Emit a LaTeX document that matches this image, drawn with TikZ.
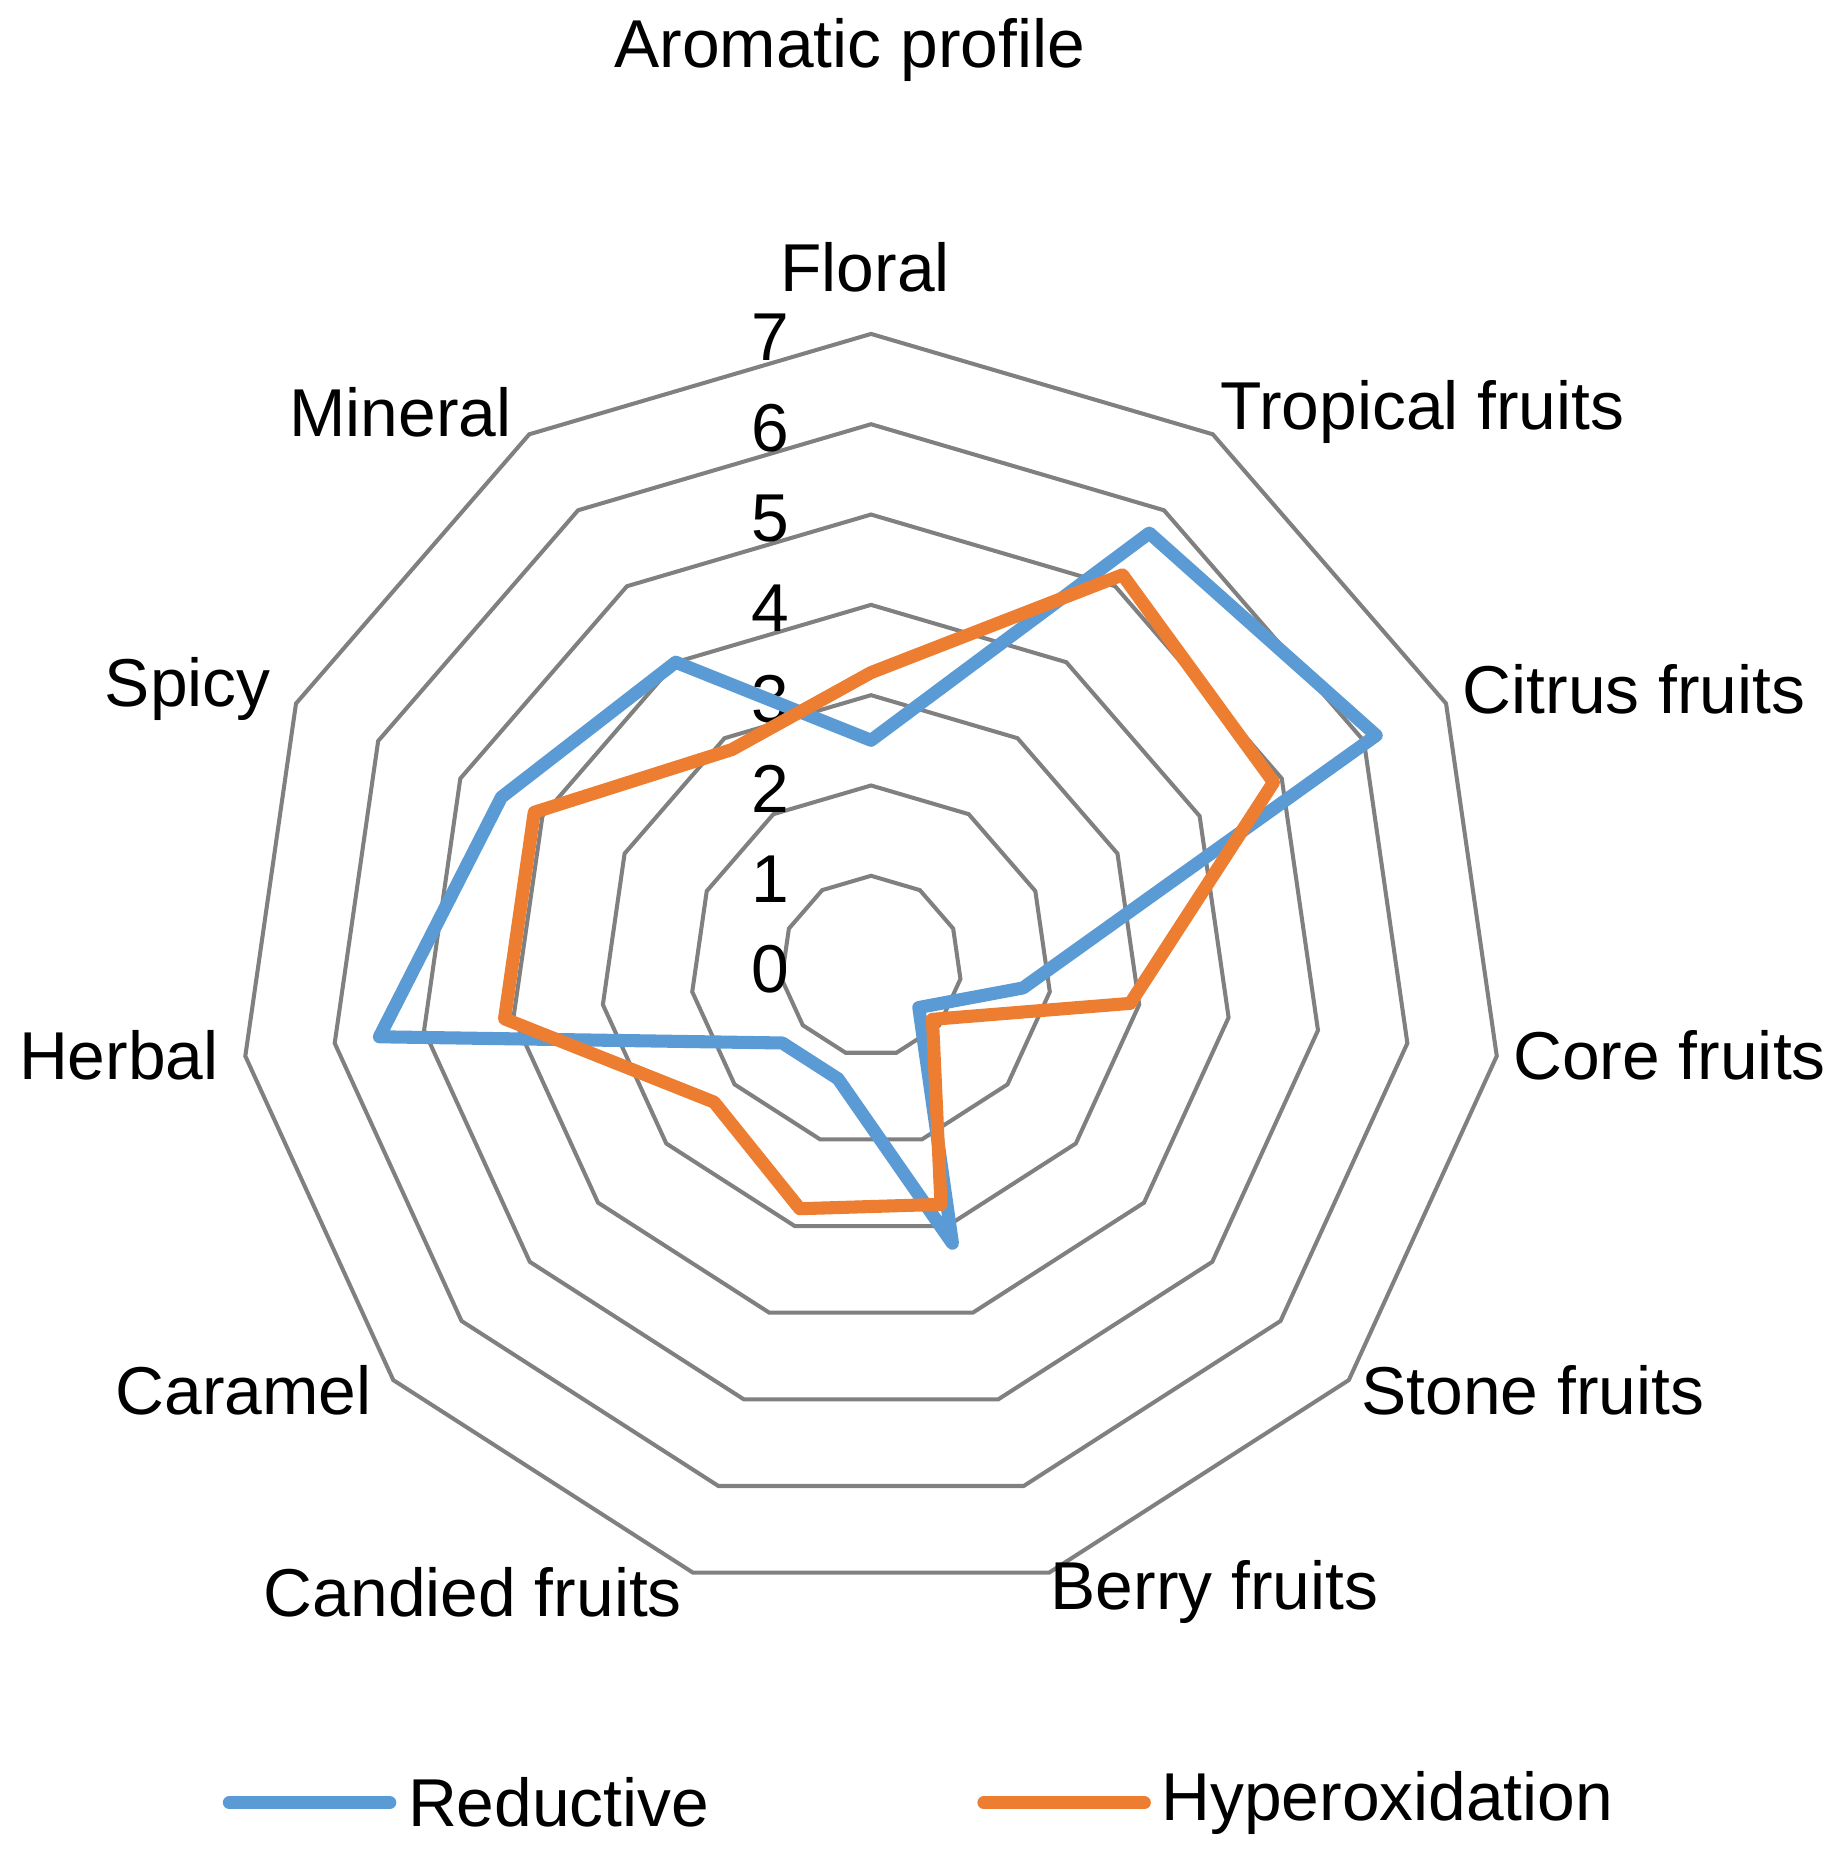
\documentclass[tikz,border=0pt]{standalone}
\usepackage{fontspec}
\setmainfont{Liberation Sans}
\definecolor{blu}{HTML}{5B9BD5}
\definecolor{ora}{HTML}{ED7D31}
\definecolor{grd}{HTML}{808080}
\begin{document}
\begin{tikzpicture}[x=0.5pt,y=-0.5pt,
  lab/.style={font=\fontsize{28.5}{34}\selectfont, inner sep=0pt},
  grid/.style={grd, line width=1.7pt, line join=miter},
  ser/.style={line width=5.5pt, line join=round}]
\useasboundingbox (0,0) rectangle (1552,1556);
\coordinate (C) at (733,813);
% grid
\foreach \k in {1,...,7}{
  \draw[grid] ([shift={(C)}] 90:{\k*38pt})
    \foreach \i in {1,...,10}{ -- ([shift={(C)}] {90-\i*360/11}:{\k*38pt}) } -- cycle;
}
% tick labels
\foreach \k in {0,...,7}{
  \node[lab] (t\k) at (648,{813-76*\k+3}) {\k};
}
% series
\def\series#1#2{%
  \draw[ser,#1] \foreach [count=\i from 0] \v in {#2}{
     \ifnum\i=0 ([shift={(C)}] 90:{\v*38pt}) \else -- ([shift={(C)}] {90-\i*360/11}:{\v*38pt}) \fi } -- cycle;}
\series{blu}{2.5,5.7,6.15,1.7,0.7,3.2,1.3,1.3,5.5,4.5,4.0}
\series{ora}{3.25,5.15,4.9,2.9,0.9,2.75,2.8,2.3,4.1,4.1,2.85}
% axis labels
\node[lab] (floral) at (728,225) {Floral};
\node[lab] (trop) at (1197,347) {Tropical fruits};
\node[lab] (citr) at (1375,580) {Citrus fruits};
\node[lab] (core) at (1405,888) {Core fruits};
\node[lab] (stone) at (1290,1170) {Stone fruits};
\node[lab] (berry) at (1022,1340) {Berry fruits};
\node[lab] (cand) at (398,1340) {Candied fruits};
\node[lab] (cara) at (205,1170) {Caramel};
\node[lab] (herb) at (100,888) {Herbal};
\node[lab] (spicy) at (158,580) {Spicy};
\node[lab] (min) at (337,347) {Mineral};
% title
\node[lab] (title) at (715,42) {Aromatic profile};
% legend
\draw[ser,blu,line cap=round] (193,1517) -- (328,1517);
\node[lab,anchor=west] (lr) at (343,1517) {Reductive};
\draw[ser,ora,line cap=round] (828,1517) -- (963,1517);
\node[lab,anchor=west] (lh) at (977,1517) {Hyperoxidation};
\end{tikzpicture}
\end{document}
